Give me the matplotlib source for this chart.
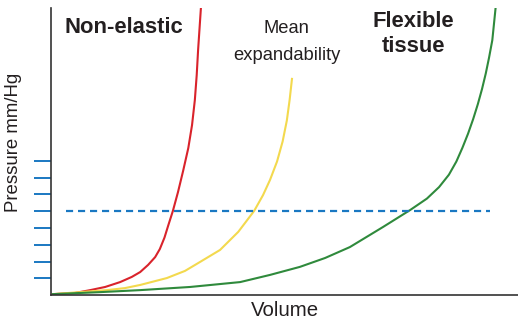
import matplotlib
matplotlib.use("Agg")
import matplotlib.pyplot as plt

# curves (volume, pressure in 0-100 units)
red_x = [0.4, 5.1, 8.4, 11.6, 14.8, 17.3, 19.1, 20.8, 22.3, 23.3, 24.3, 25.1, 26.1,
         27.2, 28.3, 29.4, 30.2, 30.8, 31.2, 31.5, 31.8, 32.1]
red_y = [0.3, 0.7, 1.7, 2.8, 4.5, 6.3, 8.0, 10.5, 13.2, 16.0, 20.0, 24.2, 29.3,
         35.9, 43.3, 51.2, 59.2, 67.9, 76.6, 85.4, 92.7, 100]

yel_x = [0.4, 6.2, 12.0, 15.8, 19.1, 24.8, 28.7, 31.9, 36.2, 40.1, 43.5,
         45.4, 46.9, 48.4, 49.6, 50.5, 51.1, 51.6]
yel_y = [0.3, 1.0, 1.7, 2.4, 3.5, 5.9, 8.4, 11.5, 15.7, 22.0, 29.3,
         34.8, 40.1, 46.5, 53.5, 60.8, 68.0, 75.3]

grn_x = [0.4, 10.5, 19.1, 29.8, 40.5, 46.9, 53.3, 58.7, 64.0, 71.1, 76.9, 80.5,
         83.1, 85.2, 86.8, 88.1, 89.3, 90.4, 91.4, 92.3, 93.1, 93.8, 94.5, 95.2]
grn_y = [0.3, 1.0, 1.7, 2.8, 4.5, 7.0, 9.8, 12.9, 16.7, 23.7, 29.6, 33.6,
         37.6, 41.9, 46.5, 51.3, 56.2, 61.3, 66.5, 71.8, 77.2, 82.7, 88.8, 100]

level = 29.3
level_x = [3.2, 94.0]
tick_vals = [5.9, 11.5, 17.4, 23.3, 29.3, 35.2, 40.8, 46.7]

BLUE = "#1a78c2"
INK = "#231f20"

plt.rcParams["font.family"] = ["Liberation Sans", "DejaVu Sans"]
plt.rcParams["text.color"] = INK
plt.rcParams["axes.labelcolor"] = INK
fig = plt.figure(figsize=(5.18, 3.24), dpi=100)
ax = fig.add_axes([51 / 518, 29 / 324, 467 / 518, 287 / 324])

ax.plot(red_x, red_y, color="#d9232b", lw=1.5)
ax.plot(yel_x, yel_y, color="#f3d94e", lw=1.5)
ax.plot(grn_x, grn_y, color="#2f8a3c", lw=1.5)
ax.plot(level_x, [level, level], color=BLUE, lw=1.6, dashes=(3.2, 2.2))

ax.set_xlim(0, 100)
ax.set_ylim(0, 100)
for s in ("top", "right"):
    ax.spines[s].set_visible(False)
for s in ("left", "bottom"):
    ax.spines[s].set_color("#333333")
    ax.spines[s].set_linewidth(1.2)

ax.set_xticks([])
ax.set_yticks(tick_vals)
ax.set_yticklabels([])
ax.tick_params(axis="y", direction="out", length=12, width=1.4, color=BLUE)

ax.set_xlabel("Volume", fontsize=14.7, labelpad=4)
ax.set_ylabel("Pressure mm/Hg", fontsize=13.4)
ax.yaxis.set_label_coords(-0.062, 0.533)

ax.text(2.8, 91.3, "Non-elastic", fontsize=15.8, fontweight="bold",
        ha="left", va="baseline")
ax.text(50.5, 91.3, "Mean", fontsize=13.2, ha="center", va="baseline")
ax.text(50.5, 81.9, "expandability", fontsize=13.2, ha="center", va="baseline")
ax.text(77.6, 93.4, "Flexible", fontsize=15.8, fontweight="bold",
        ha="center", va="baseline")
ax.text(77.6, 84.7, "tissue", fontsize=15.8, fontweight="bold",
        ha="center", va="baseline")

fig.savefig("out.png", dpi=100)
